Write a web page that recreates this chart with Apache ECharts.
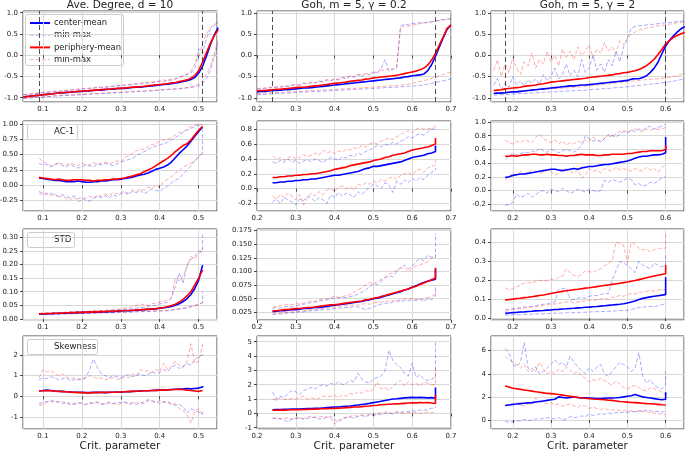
<!DOCTYPE html>
<html><head><meta charset="utf-8">
<script src="https://cdn.jsdelivr.net/npm/echarts@6/dist/echarts.min.js"></script>
<style>html,body{margin:0;padding:0;background:#fff}#c{width:685px;height:451px}</style>
</head><body><div id="c"></div>
<script>
// ---------- x positions ----------
const R1X1 = [0.05,0.06,0.07,0.08,0.09,0.10,0.11,0.12,0.13,0.14,0.15,
 0.16,0.17,0.18,0.19,0.20,0.21,0.22,0.23,0.24,0.25,
 0.26,0.27,0.28,0.29,0.30,0.31,0.32,0.33,0.34,0.35,
 0.36,0.37,0.38,0.39,0.40,0.41,0.42,0.43,0.44,0.45,
 0.46,0.47,0.48,0.49,0.50,0.51,0.52,0.53,0.54,0.55];
const R1X2 = [0.20,0.21,0.22,0.23,0.24,0.25,0.26,0.27,0.28,0.29,0.30,
 0.31,0.32,0.33,0.34,0.35,0.36,0.37,0.38,0.39,0.40,
 0.41,0.42,0.43,0.44,0.45,0.46,0.47,0.48,0.49,0.50,
 0.51,0.52,0.53,0.54,0.55,0.56,0.57,0.58,0.59,0.60,
 0.61,0.62,0.63,0.64,0.65,0.66,0.67,0.68,0.69,0.70];
const R1X3 = [0.15,0.16,0.17,0.18,0.19,0.20,0.21,0.22,0.23,0.24,0.25,
 0.26,0.27,0.28,0.29,0.30,0.31,0.32,0.33,0.34,0.35,
 0.36,0.37,0.38,0.39,0.40,0.41,0.42,0.43,0.44,0.45,
 0.46,0.47,0.48,0.49,0.50,0.51,0.52,0.53,0.54,0.55,
 0.56,0.57,0.58,0.59,0.60,0.61,0.62,0.63,0.64,0.65];
const X1 = [0.09,0.10,0.11,0.12,0.13,0.14,0.15,0.16,0.17,0.18,
 0.19,0.20,0.21,0.22,0.23,0.24,0.25,0.26,0.27,0.28,
 0.29,0.30,0.31,0.32,0.33,0.34,0.35,0.36,0.37,0.38,
 0.39,0.40,0.41,0.42,0.43,0.44,0.45,0.46,0.47,0.48,
 0.49,0.50,0.51,0.51];
const X2 = [0.24,0.25,0.26,0.27,0.28,0.29,0.30,0.31,0.32,0.33,
 0.34,0.35,0.36,0.37,0.38,0.39,0.40,0.41,0.42,0.43,
 0.44,0.45,0.46,0.47,0.48,0.49,0.50,0.51,0.52,0.53,
 0.54,0.55,0.56,0.57,0.58,0.59,0.60,0.61,0.62,0.63,
 0.64,0.65,0.66,0.66];
const X3 = [0.18,0.19,0.20,0.21,0.22,0.23,0.24,0.25,0.26,0.27,
 0.28,0.29,0.30,0.31,0.32,0.33,0.34,0.35,0.36,0.37,
 0.38,0.39,0.40,0.41,0.42,0.43,0.44,0.45,0.46,0.47,
 0.48,0.49,0.50,0.51,0.52,0.53,0.54,0.55,0.56,0.57,
 0.58,0.59,0.60,0.60];

// ---------- Row 1: order parameter ----------
const deg_cMean = [-0.98,-0.97,-0.96,-0.95,-0.94,-0.93,-0.92,-0.91,-0.90,-0.89,-0.89,
 -0.88,-0.87,-0.86,-0.86,-0.85,-0.84,-0.84,-0.83,-0.82,-0.82,
 -0.81,-0.80,-0.80,-0.79,-0.78,-0.78,-0.77,-0.76,-0.75,-0.75,
 -0.74,-0.73,-0.72,-0.71,-0.70,-0.69,-0.68,-0.67,-0.65,-0.64,
 -0.62,-0.60,-0.57,-0.52,-0.42,-0.26,-0.02,0.25,0.48,0.65];
const deg_pMean = [-0.98,-0.97,-0.96,-0.95,-0.94,-0.93,-0.92,-0.91,-0.90,-0.89,-0.88,
 -0.87,-0.87,-0.86,-0.85,-0.84,-0.84,-0.83,-0.82,-0.82,-0.81,
 -0.80,-0.80,-0.79,-0.78,-0.78,-0.77,-0.76,-0.75,-0.75,-0.74,
 -0.73,-0.72,-0.71,-0.70,-0.69,-0.68,-0.67,-0.65,-0.64,-0.62,
 -0.60,-0.58,-0.54,-0.48,-0.36,-0.16,0.06,0.28,0.46,0.60];
const deg_cMax = [-0.93,-0.91,-0.92,-0.89,-0.90,-0.87,-0.88,-0.85,-0.86,-0.84,-0.85,
 -0.82,-0.83,-0.80,-0.82,-0.78,-0.80,-0.77,-0.78,-0.75,-0.77,
 -0.74,-0.75,-0.72,-0.74,-0.70,-0.72,-0.69,-0.70,-0.67,-0.68,
 -0.65,-0.66,-0.63,-0.65,-0.60,-0.62,-0.58,-0.59,-0.55,-0.52,
 -0.48,-0.46,-0.42,-0.30,0.15,0.05,0.40,0.60,0.70,0.76];
const deg_pMax = [-0.92,-0.93,-0.90,-0.91,-0.88,-0.89,-0.86,-0.87,-0.84,-0.86,-0.83,
 -0.84,-0.81,-0.82,-0.79,-0.80,-0.77,-0.79,-0.76,-0.77,-0.74,
 -0.76,-0.73,-0.74,-0.71,-0.72,-0.69,-0.70,-0.67,-0.68,-0.65,
 -0.66,-0.63,-0.64,-0.61,-0.62,-0.58,-0.60,-0.56,-0.57,-0.52,
 -0.50,-0.44,-0.38,-0.20,-0.05,0.30,0.50,0.65,0.72,0.78];
const deg_cMin = [-1.02,-1.00,-1.01,-0.99,-0.98,-0.99,-0.97,-0.97,-0.96,-0.96,-0.95,
 -0.95,-0.94,-0.94,-0.93,-0.93,-0.92,-0.92,-0.91,-0.91,-0.90,
 -0.90,-0.89,-0.89,-0.88,-0.88,-0.87,-0.87,-0.86,-0.86,-0.85,
 -0.85,-0.84,-0.84,-0.83,-0.82,-0.82,-0.81,-0.80,-0.80,-0.79,
 -0.78,-0.77,-0.76,-0.74,-0.72,-0.66,-0.55,-0.35,-0.05,0.30];
const deg_pMin = [-1.01,-1.01,-0.99,-1.00,-0.98,-0.98,-0.96,-0.97,-0.95,-0.95,-0.94,
 -0.94,-0.93,-0.93,-0.92,-0.92,-0.91,-0.91,-0.90,-0.90,-0.89,
 -0.89,-0.88,-0.88,-0.87,-0.87,-0.86,-0.86,-0.85,-0.85,-0.84,
 -0.84,-0.83,-0.83,-0.82,-0.81,-0.81,-0.80,-0.79,-0.79,-0.78,
 -0.77,-0.76,-0.75,-0.72,-0.68,-0.60,-0.45,-0.25,0.05,0.35];

const g02_cMean = [-0.86,-0.85,-0.85,-0.84,-0.83,-0.83,-0.82,-0.81,-0.81,-0.80,-0.79,
 -0.78,-0.77,-0.77,-0.76,-0.75,-0.74,-0.73,-0.72,-0.71,-0.70,
 -0.69,-0.68,-0.67,-0.66,-0.65,-0.64,-0.63,-0.62,-0.61,-0.60,
 -0.59,-0.58,-0.57,-0.56,-0.55,-0.54,-0.53,-0.51,-0.50,-0.48,
 -0.47,-0.46,-0.44,-0.36,-0.22,-0.02,0.20,0.42,0.62,0.72];
const g02_pMean = [-0.84,-0.83,-0.83,-0.82,-0.81,-0.80,-0.80,-0.79,-0.78,-0.77,-0.76,
 -0.75,-0.75,-0.74,-0.73,-0.72,-0.71,-0.70,-0.69,-0.67,-0.66,
 -0.65,-0.64,-0.63,-0.61,-0.60,-0.59,-0.58,-0.56,-0.55,-0.53,
 -0.52,-0.51,-0.50,-0.49,-0.48,-0.47,-0.45,-0.43,-0.41,-0.39,
 -0.37,-0.34,-0.30,-0.23,-0.11,0.05,0.25,0.44,0.64,0.72];
const g02_cMax = [-0.80,-0.77,-0.79,-0.75,-0.77,-0.74,-0.76,-0.72,-0.74,-0.70,-0.69,
 -0.71,-0.66,-0.68,-0.64,-0.66,-0.60,-0.63,-0.58,-0.60,-0.56,
 -0.58,-0.52,-0.55,-0.48,-0.52,-0.45,-0.50,-0.42,-0.46,-0.40,
 -0.42,-0.30,-0.10,-0.38,-0.32,-0.28,0.70,0.74,0.72,0.76,
 0.75,0.78,0.77,0.80,0.79,0.82,0.83,0.85,0.86,0.87];
const g02_pMax = [-0.78,-0.80,-0.76,-0.78,-0.74,-0.76,-0.72,-0.74,-0.70,-0.72,-0.68,
 -0.69,-0.65,-0.67,-0.62,-0.64,-0.60,-0.62,-0.57,-0.59,-0.55,
 -0.56,-0.52,-0.54,-0.48,-0.50,-0.44,-0.47,-0.42,-0.44,-0.38,
 -0.40,-0.34,-0.36,-0.30,-0.34,-0.30,0.66,0.70,0.69,0.72,
 0.73,0.75,0.76,0.78,0.79,0.81,0.82,0.84,0.85,0.86];
const g02_cMin = [-0.93,-0.92,-0.92,-0.91,-0.91,-0.90,-0.90,-0.89,-0.89,-0.88,-0.88,
 -0.87,-0.87,-0.86,-0.86,-0.85,-0.85,-0.84,-0.84,-0.83,-0.83,
 -0.82,-0.82,-0.81,-0.81,-0.80,-0.80,-0.79,-0.79,-0.78,-0.78,
 -0.77,-0.77,-0.76,-0.76,-0.75,-0.75,-0.74,-0.73,-0.73,-0.72,
 -0.72,-0.71,-0.70,-0.68,-0.66,-0.64,-0.62,-0.60,-0.58,-0.55];
const g02_pMin = [-0.90,-0.90,-0.89,-0.89,-0.88,-0.88,-0.87,-0.87,-0.86,-0.86,-0.85,
 -0.85,-0.84,-0.84,-0.83,-0.83,-0.82,-0.82,-0.81,-0.81,-0.80,
 -0.80,-0.79,-0.79,-0.78,-0.78,-0.77,-0.77,-0.76,-0.75,-0.75,
 -0.74,-0.74,-0.73,-0.72,-0.72,-0.71,-0.70,-0.69,-0.68,-0.66,
 -0.64,-0.62,-0.60,-0.57,-0.54,-0.51,-0.48,-0.45,-0.42,-0.40];

const g2_cMean = [-0.90,-0.89,-0.89,-0.88,-0.87,-0.86,-0.86,-0.85,-0.84,-0.83,-0.82,
 -0.81,-0.80,-0.79,-0.78,-0.77,-0.76,-0.75,-0.74,-0.73,-0.72,
 -0.72,-0.71,-0.70,-0.70,-0.69,-0.68,-0.67,-0.66,-0.65,-0.64,
 -0.63,-0.62,-0.61,-0.60,-0.59,-0.56,-0.55,-0.55,-0.52,-0.48,
 -0.40,-0.30,-0.16,0.04,0.22,0.36,0.46,0.55,0.63,0.68];
const g2_pMean = [-0.83,-0.82,-0.81,-0.79,-0.78,-0.77,-0.76,-0.75,-0.73,-0.72,-0.71,
 -0.70,-0.68,-0.67,-0.65,-0.63,-0.62,-0.61,-0.60,-0.59,-0.58,
 -0.57,-0.56,-0.55,-0.54,-0.52,-0.51,-0.50,-0.49,-0.48,-0.47,
 -0.46,-0.44,-0.43,-0.41,-0.40,-0.38,-0.36,-0.33,-0.29,-0.24,
 -0.17,-0.09,0.02,0.14,0.27,0.35,0.42,0.47,0.51,0.54];
const g2_cMax = [-0.70,-0.55,-0.80,-0.65,-0.75,-0.50,-0.70,-0.60,-0.72,-0.58,-0.65,
 -0.55,-0.68,-0.45,-0.60,-0.50,-0.30,-0.55,-0.45,-0.20,-0.48,
 -0.35,-0.50,-0.10,-0.40,-0.30,0.00,-0.35,-0.20,-0.40,-0.10,
 -0.25,0.10,-0.15,0.20,0.40,0.65,0.68,0.70,0.71,0.72,
 0.73,0.74,0.75,0.76,0.77,0.78,0.79,0.80,0.81,0.82];
const g2_pMax = [-0.35,-0.10,-0.50,-0.20,-0.40,-0.05,-0.30,-0.45,-0.15,-0.25,0.05,
 -0.30,-0.10,-0.20,0.10,-0.15,0.00,-0.25,0.15,-0.05,0.10,
 -0.10,0.20,0.00,0.10,0.25,-0.05,0.15,0.05,0.30,0.10,
 0.20,0.05,0.35,0.25,0.40,0.50,0.55,0.60,0.62,0.65,
 0.66,0.68,0.70,0.71,0.72,0.74,0.75,0.77,0.78,0.80];
const g2_cMin = [-0.94,-0.93,-0.93,-0.92,-0.92,-0.91,-0.91,-0.90,-0.90,-0.89,-0.89,
 -0.88,-0.88,-0.87,-0.87,-0.86,-0.86,-0.85,-0.85,-0.84,-0.84,
 -0.83,-0.83,-0.82,-0.82,-0.81,-0.80,-0.80,-0.79,-0.78,-0.78,
 -0.77,-0.76,-0.76,-0.75,-0.74,-0.73,-0.72,-0.71,-0.70,-0.69,
 -0.68,-0.67,-0.66,-0.65,-0.64,-0.62,-0.61,-0.59,-0.57,-0.55];
const g2_pMin = [-0.88,-0.87,-0.87,-0.86,-0.85,-0.85,-0.84,-0.84,-0.83,-0.82,-0.82,
 -0.81,-0.81,-0.80,-0.80,-0.79,-0.78,-0.78,-0.77,-0.77,-0.76,
 -0.75,-0.75,-0.74,-0.73,-0.72,-0.71,-0.70,-0.69,-0.68,-0.67,
 -0.66,-0.65,-0.64,-0.63,-0.62,-0.61,-0.60,-0.59,-0.58,-0.57,
 -0.56,-0.56,-0.55,-0.54,-0.53,-0.52,-0.50,-0.48,-0.45,-0.42];

// ---------- Row 2: AC-1 ----------
const ac_deg_cMean = [0.12,0.11,0.10,0.09,0.08,0.08,0.07,0.06,0.06,0.06,
 0.07,0.06,0.05,0.05,0.06,0.06,0.07,0.07,0.08,0.09,
 0.09,0.10,0.11,0.12,0.13,0.15,0.17,0.18,0.20,0.23,
 0.26,0.28,0.30,0.33,0.38,0.45,0.52,0.58,0.64,0.72,
 0.80,0.88,0.95,0.96];
const ac_deg_pMean = [0.13,0.12,0.11,0.10,0.09,0.10,0.09,0.08,0.08,0.09,
 0.09,0.09,0.08,0.08,0.07,0.08,0.08,0.09,0.09,0.10,
 0.10,0.11,0.12,0.14,0.15,0.17,0.19,0.22,0.25,0.28,
 0.32,0.36,0.40,0.44,0.49,0.55,0.60,0.65,0.68,0.74,
 0.82,0.90,0.96,0.96];
const ac_deg_cMax = [0.36,0.33,0.34,0.30,0.33,0.36,0.32,0.30,0.34,0.31,
 0.28,0.30,0.33,0.32,0.30,0.35,0.33,0.36,0.34,0.32,
 0.35,0.38,0.40,0.42,0.44,0.48,0.52,0.55,0.58,0.62,
 0.64,0.66,0.68,0.70,0.74,0.78,0.82,0.86,0.90,0.93,
 0.96,0.98,0.98,0.98];
const ac_deg_pMax = [0.45,0.38,0.36,0.32,0.34,0.37,0.35,0.33,0.36,0.34,
 0.32,0.36,0.34,0.33,0.37,0.34,0.36,0.38,0.35,0.37,
 0.40,0.38,0.45,0.48,0.52,0.56,0.60,0.58,0.63,0.66,
 0.68,0.72,0.74,0.75,0.78,0.82,0.86,0.88,0.92,0.96,
 0.98,1.00,0.99,0.99];
const ac_deg_cMin = [-0.10,-0.13,-0.15,-0.13,-0.16,-0.18,-0.15,-0.19,-0.20,-0.17,
 -0.22,-0.20,-0.24,-0.26,-0.22,-0.18,-0.20,-0.17,-0.21,-0.15,
 -0.18,-0.14,-0.12,-0.15,-0.10,-0.12,-0.08,-0.14,-0.10,-0.06,
 -0.08,-0.10,-0.05,-0.02,0.04,0.08,0.12,0.18,0.25,0.32,
 0.40,0.46,0.52,0.90];
const ac_deg_pMin = [-0.13,-0.16,-0.12,-0.17,-0.14,-0.20,-0.17,-0.22,-0.24,-0.19,
 -0.27,-0.24,-0.20,-0.18,-0.21,-0.16,-0.18,-0.14,-0.17,-0.12,
 -0.14,-0.12,-0.10,-0.13,-0.08,-0.10,-0.06,-0.08,-0.03,-0.05,
 0.00,-0.04,0.06,0.10,0.14,0.20,0.24,0.30,0.33,0.36,
 0.40,0.48,0.52,0.55];

const ac_g02_cMean = [0.08,0.08,0.09,0.09,0.10,0.10,0.11,0.11,0.12,0.12,
 0.13,0.13,0.14,0.15,0.16,0.17,0.18,0.18,0.19,0.20,
 0.21,0.22,0.23,0.25,0.27,0.28,0.30,0.30,0.31,0.32,
 0.33,0.34,0.35,0.36,0.38,0.40,0.42,0.43,0.44,0.45,
 0.47,0.48,0.50,0.58];
const ac_g02_pMean = [0.15,0.15,0.16,0.16,0.17,0.17,0.18,0.18,0.19,0.19,
 0.20,0.20,0.21,0.22,0.23,0.24,0.26,0.27,0.28,0.29,
 0.31,0.32,0.33,0.34,0.35,0.36,0.38,0.39,0.40,0.42,
 0.43,0.45,0.46,0.47,0.48,0.50,0.52,0.53,0.54,0.55,
 0.56,0.58,0.60,0.68];
const ac_g02_cMax = [0.36,0.34,0.38,0.35,0.40,0.36,0.38,0.34,0.37,0.39,
 0.36,0.40,0.38,0.35,0.39,0.42,0.40,0.38,0.43,0.41,
 0.45,0.43,0.48,0.46,0.50,0.52,0.55,0.58,0.56,0.60,
 0.58,0.62,0.60,0.64,0.66,0.70,0.68,0.72,0.74,0.72,
 0.76,0.80,0.80,0.82];
const ac_g02_pMax = [0.44,0.40,0.42,0.38,0.41,0.44,0.40,0.42,0.46,0.43,
 0.45,0.48,0.45,0.52,0.48,0.50,0.47,0.51,0.49,0.53,
 0.52,0.55,0.54,0.58,0.56,0.60,0.62,0.60,0.64,0.66,
 0.68,0.66,0.70,0.72,0.76,0.78,0.75,0.80,0.82,0.80,
 0.81,0.80,0.84,0.86];
const ac_g02_cMin = [-0.18,-0.14,-0.20,-0.12,-0.15,-0.18,-0.22,-0.14,-0.16,-0.10,
 -0.13,-0.17,-0.12,-0.15,-0.20,-0.08,-0.12,-0.05,-0.10,-0.06,
 -0.08,-0.12,-0.04,-0.08,-0.02,0.02,0.06,0.04,0.00,0.08,
 0.05,-0.05,0.10,0.06,0.12,0.08,0.14,0.10,0.15,0.12,
 0.18,0.22,0.25,0.28];
const ac_g02_pMin = [-0.10,-0.14,-0.08,-0.12,-0.06,-0.10,-0.15,-0.08,-0.22,-0.12,
 -0.06,-0.10,-0.04,-0.08,-0.02,0.00,-0.04,0.02,0.04,0.00,
 0.03,-0.02,0.06,0.04,0.08,0.06,0.10,0.08,0.12,0.10,
 0.14,0.16,0.12,0.18,0.20,0.22,0.18,0.24,0.26,0.22,
 0.28,0.30,0.32,0.38];

const ac_g2_cMean = [0.19,0.20,0.22,0.23,0.24,0.24,0.25,0.26,0.27,0.28,
 0.29,0.30,0.31,0.31,0.30,0.29,0.30,0.31,0.32,0.31,
 0.33,0.34,0.35,0.35,0.36,0.37,0.38,0.38,0.39,0.40,
 0.41,0.42,0.43,0.45,0.47,0.49,0.50,0.50,0.51,0.52,
 0.52,0.53,0.55,0.78];
const ac_g2_pMean = [0.50,0.50,0.51,0.50,0.51,0.52,0.52,0.53,0.53,0.52,
 0.52,0.53,0.52,0.52,0.51,0.51,0.50,0.51,0.51,0.52,
 0.53,0.52,0.52,0.52,0.51,0.51,0.52,0.52,0.53,0.53,
 0.53,0.53,0.54,0.54,0.55,0.56,0.57,0.57,0.58,0.58,
 0.58,0.58,0.60,0.66];
const ac_g2_cMax = [0.45,0.50,0.55,0.52,0.54,0.56,0.55,0.58,0.56,0.62,
 0.58,0.56,0.60,0.58,0.55,0.58,0.60,0.58,0.56,0.60,
 0.65,0.80,0.76,0.72,0.74,0.70,0.76,0.82,0.80,0.78,
 0.82,0.86,0.84,0.88,0.86,0.90,0.88,0.92,0.94,0.90,
 0.92,0.94,0.97,0.97];
const ac_g2_pMax = [0.74,0.70,0.68,0.72,0.70,0.74,0.72,0.70,0.78,0.82,
 0.76,0.72,0.70,0.74,0.68,0.72,0.66,0.70,0.68,0.72,
 0.70,0.74,0.72,0.78,0.74,0.72,0.76,0.80,0.78,0.84,
 0.86,0.88,0.85,0.88,0.90,0.88,0.86,0.90,0.88,0.90,
 0.89,0.90,0.92,0.92];
const ac_g2_cMin = [-0.22,-0.20,-0.18,-0.05,-0.10,-0.08,-0.04,-0.10,-0.06,-0.02,
 0.00,-0.04,0.02,0.00,-0.02,0.03,0.00,-0.04,-0.02,0.02,
 0.00,-0.02,0.02,0.00,-0.02,0.00,0.15,0.12,0.16,0.14,
 0.12,0.15,0.18,0.16,0.08,0.10,0.06,0.08,0.12,0.10,
 0.14,0.18,0.20,0.20];
const ac_g2_pMin = [0.15,0.20,0.25,0.22,0.28,0.24,0.26,0.30,0.28,0.25,
 0.27,0.30,0.28,0.22,0.26,0.30,0.32,0.28,0.25,0.30,
 0.18,0.22,0.32,0.28,0.30,0.26,0.32,0.30,0.28,0.34,
 0.30,0.32,0.30,0.28,0.32,0.30,0.28,0.34,0.30,0.32,
 0.26,0.34,0.38,0.38];

// ---------- Row 3: STD ----------
const sd_deg_cMean = [0.018,0.018,0.019,0.019,0.020,0.020,0.021,0.021,0.022,0.022,
 0.023,0.023,0.024,0.024,0.025,0.025,0.026,0.026,0.027,0.027,
 0.028,0.029,0.030,0.030,0.031,0.032,0.033,0.034,0.035,0.036,
 0.037,0.039,0.041,0.043,0.046,0.050,0.056,0.064,0.074,0.090,
 0.112,0.143,0.198,0.198];
const sd_deg_pMean = [0.019,0.019,0.020,0.020,0.021,0.021,0.022,0.022,0.023,0.023,
 0.024,0.024,0.025,0.025,0.026,0.026,0.027,0.027,0.028,0.028,
 0.029,0.030,0.031,0.031,0.032,0.033,0.034,0.035,0.036,0.037,
 0.038,0.040,0.042,0.045,0.049,0.054,0.062,0.072,0.085,0.100,
 0.125,0.150,0.180,0.180];
const sd_deg_cMax = [0.020,0.021,0.021,0.022,0.023,0.023,0.024,0.024,0.025,0.026,
 0.026,0.027,0.027,0.028,0.029,0.029,0.030,0.031,0.031,0.032,
 0.033,0.034,0.035,0.036,0.037,0.039,0.041,0.043,0.045,0.048,
 0.050,0.055,0.058,0.060,0.076,0.120,0.170,0.130,0.200,0.220,
 0.230,0.250,0.250,0.310];
const sd_deg_pMax = [0.021,0.021,0.022,0.022,0.023,0.024,0.024,0.025,0.026,0.026,
 0.027,0.028,0.028,0.029,0.030,0.030,0.031,0.032,0.033,0.034,
 0.035,0.037,0.039,0.042,0.045,0.050,0.055,0.052,0.050,0.056,
 0.058,0.062,0.065,0.068,0.080,0.150,0.140,0.160,0.190,0.230,
 0.220,0.240,0.250,0.260];
const sd_deg_cMin = [0.016,0.016,0.017,0.017,0.017,0.018,0.018,0.018,0.019,0.019,
 0.020,0.020,0.020,0.021,0.021,0.021,0.022,0.022,0.023,0.023,
 0.023,0.024,0.024,0.025,0.025,0.026,0.026,0.027,0.027,0.028,
 0.028,0.029,0.029,0.030,0.032,0.034,0.036,0.038,0.040,0.044,
 0.048,0.052,0.060,0.100];
const sd_deg_pMin = [0.017,0.017,0.017,0.018,0.018,0.018,0.019,0.019,0.019,0.020,
 0.020,0.021,0.021,0.021,0.022,0.022,0.023,0.023,0.023,0.024,
 0.024,0.025,0.025,0.026,0.026,0.027,0.027,0.028,0.028,0.029,
 0.030,0.030,0.031,0.032,0.034,0.036,0.038,0.041,0.044,0.047,
 0.050,0.054,0.060,0.070];

const sd_g02_cMean = [0.026,0.027,0.028,0.028,0.029,0.030,0.030,0.031,0.032,0.032,
 0.033,0.034,0.034,0.035,0.036,0.037,0.038,0.039,0.040,0.041,
 0.042,0.043,0.044,0.045,0.047,0.048,0.050,0.051,0.053,0.055,
 0.057,0.059,0.061,0.063,0.066,0.068,0.071,0.074,0.077,0.080,
 0.082,0.084,0.086,0.105];
const sd_g02_pMean = [0.028,0.028,0.029,0.030,0.030,0.031,0.032,0.032,0.033,0.034,
 0.034,0.035,0.036,0.037,0.038,0.039,0.039,0.040,0.041,0.042,
 0.043,0.044,0.045,0.046,0.048,0.049,0.051,0.052,0.054,0.056,
 0.058,0.060,0.062,0.064,0.066,0.068,0.071,0.073,0.076,0.079,
 0.082,0.085,0.088,0.107];
const sd_g02_cMax = [0.032,0.034,0.033,0.035,0.036,0.035,0.037,0.038,0.040,0.041,
 0.043,0.044,0.046,0.047,0.048,0.050,0.051,0.052,0.053,0.052,
 0.054,0.056,0.058,0.062,0.066,0.072,0.078,0.076,0.082,0.088,
 0.092,0.090,0.100,0.108,0.112,0.105,0.110,0.118,0.124,0.120,
 0.130,0.126,0.125,0.170];
const sd_g02_pMax = [0.034,0.036,0.038,0.038,0.040,0.039,0.041,0.040,0.042,0.044,
 0.046,0.045,0.048,0.050,0.049,0.052,0.055,0.052,0.054,0.056,
 0.058,0.062,0.066,0.070,0.075,0.080,0.077,0.082,0.085,0.090,
 0.095,0.098,0.102,0.105,0.108,0.100,0.106,0.110,0.112,0.115,
 0.118,0.125,0.128,0.130];
const sd_g02_cMin = [0.021,0.022,0.022,0.023,0.024,0.024,0.025,0.026,0.026,0.027,
 0.028,0.028,0.029,0.030,0.030,0.031,0.032,0.033,0.033,0.034,
 0.034,0.036,0.035,0.033,0.030,0.032,0.035,0.038,0.040,0.042,
 0.041,0.044,0.046,0.045,0.047,0.046,0.048,0.047,0.049,0.045,
 0.050,0.048,0.055,0.075];
const sd_g02_pMin = [0.022,0.023,0.024,0.024,0.025,0.026,0.026,0.027,0.028,0.029,
 0.030,0.030,0.031,0.032,0.033,0.034,0.035,0.036,0.037,0.037,
 0.038,0.039,0.038,0.040,0.041,0.040,0.042,0.043,0.044,0.046,
 0.045,0.046,0.047,0.048,0.050,0.049,0.050,0.048,0.050,0.049,
 0.052,0.054,0.058,0.065];

const sd_g2_cMean = [0.025,0.027,0.029,0.030,0.032,0.033,0.035,0.036,0.038,0.039,
 0.040,0.042,0.043,0.045,0.046,0.048,0.049,0.051,0.052,0.054,
 0.055,0.057,0.058,0.060,0.061,0.063,0.065,0.067,0.069,0.071,
 0.073,0.076,0.080,0.085,0.090,0.098,0.104,0.108,0.112,0.115,
 0.118,0.121,0.125,0.215];
const sd_g2_pMean = [0.095,0.098,0.100,0.103,0.105,0.108,0.110,0.113,0.116,0.119,
 0.122,0.126,0.130,0.134,0.138,0.141,0.144,0.147,0.150,0.152,
 0.155,0.158,0.160,0.163,0.166,0.169,0.172,0.175,0.178,0.181,
 0.184,0.187,0.190,0.194,0.198,0.203,0.208,0.213,0.218,0.222,
 0.226,0.230,0.235,0.280];
const sd_g2_cMax = [0.045,0.047,0.050,0.052,0.055,0.058,0.060,0.063,0.066,0.070,
 0.073,0.076,0.080,0.085,0.150,0.155,0.160,0.100,0.098,0.105,
 0.110,0.105,0.115,0.120,0.118,0.125,0.130,0.128,0.200,0.250,
 0.300,0.290,0.280,0.260,0.240,0.300,0.280,0.270,0.260,0.290,
 0.280,0.270,0.280,0.330];
const sd_g2_pMax = [0.160,0.150,0.155,0.165,0.175,0.185,0.190,0.185,0.195,0.200,
 0.195,0.200,0.205,0.200,0.215,0.220,0.260,0.240,0.225,0.220,
 0.230,0.250,0.245,0.240,0.255,0.260,0.275,0.290,0.300,0.400,
 0.395,0.385,0.290,0.400,0.390,0.370,0.360,0.365,0.350,0.360,
 0.370,0.365,0.370,0.450];
const sd_g2_cMin = [0.015,0.016,0.017,0.018,0.018,0.019,0.020,0.021,0.022,0.022,
 0.023,0.024,0.025,0.026,0.026,0.027,0.028,0.028,0.029,0.030,
 0.030,0.031,0.032,0.033,0.034,0.034,0.035,0.036,0.037,0.038,
 0.040,0.039,0.041,0.046,0.050,0.055,0.058,0.060,0.062,0.060,
 0.065,0.070,0.075,0.080];
const sd_g2_pMin = [0.035,0.040,0.045,0.048,0.050,0.053,0.056,0.058,0.060,0.063,
 0.066,0.070,0.072,0.075,0.078,0.082,0.085,0.090,0.080,0.085,
 0.088,0.090,0.095,0.092,0.098,0.100,0.105,0.100,0.110,0.112,
 0.120,0.115,0.125,0.130,0.128,0.135,0.138,0.140,0.145,0.142,
 0.148,0.150,0.150,0.160];

// ---------- Row 4: Skewness ----------
const sk_deg_cMean = [0.27,0.28,0.30,0.28,0.26,0.25,0.24,0.22,0.21,0.20,
 0.20,0.19,0.18,0.18,0.19,0.20,0.19,0.18,0.19,0.20,
 0.21,0.20,0.22,0.23,0.24,0.25,0.26,0.27,0.27,0.28,
 0.29,0.30,0.31,0.32,0.33,0.34,0.35,0.36,0.38,0.36,
 0.38,0.40,0.45,0.50];
const sk_deg_pMean = [0.26,0.27,0.28,0.27,0.25,0.24,0.23,0.22,0.20,0.19,
 0.18,0.18,0.17,0.17,0.18,0.18,0.19,0.19,0.20,0.20,
 0.20,0.21,0.22,0.23,0.24,0.25,0.26,0.27,0.27,0.28,
 0.29,0.30,0.30,0.31,0.32,0.33,0.34,0.33,0.30,0.28,
 0.26,0.24,0.28,0.30];
const sk_deg_cMax = [0.80,0.90,0.85,0.95,0.90,0.80,0.85,0.90,0.75,0.80,
 0.85,0.80,0.90,1.30,1.80,1.40,1.10,1.00,0.90,1.00,
 0.95,0.90,1.00,1.05,0.95,1.00,1.10,1.00,1.05,1.20,
 1.10,1.15,1.30,1.20,1.40,1.50,1.35,1.45,1.60,1.50,
 1.80,1.90,2.00,2.05];
const sk_deg_pMax = [0.90,1.30,1.20,1.25,1.10,1.00,1.10,0.95,0.85,0.90,
 0.80,0.85,0.90,1.00,0.95,0.85,0.90,0.80,0.85,0.90,
 0.85,0.80,0.95,0.90,1.10,1.00,1.30,1.20,1.25,1.15,
 1.30,1.20,1.60,1.30,1.45,1.70,1.50,1.40,1.70,2.55,
 1.60,1.70,2.50,2.30];
const sk_deg_cMin = [-0.35,-0.30,-0.25,-0.20,-0.30,-0.25,-0.35,-0.30,-0.40,-0.35,
 -0.30,-0.35,-0.40,-0.30,-0.35,-0.30,-0.40,-0.35,-0.30,-0.35,
 -0.30,-0.30,-0.25,-0.35,-0.30,-0.40,-0.30,-0.35,-0.20,-0.25,
 -0.30,-0.20,-0.30,-0.25,-0.35,-0.45,-0.40,-0.50,-0.80,-0.60,
 -0.70,-0.75,-0.85,-0.80];
const sk_deg_pMin = [-0.45,-0.40,-0.30,-0.25,-0.20,-0.30,-0.25,-0.35,-0.30,-0.40,
 -0.35,-0.30,-0.40,-0.35,-0.30,-0.25,-0.35,-0.40,-0.30,-0.35,
 -0.40,-0.35,-0.30,-0.40,-0.35,-0.30,-0.35,-0.25,-0.15,-0.20,
 -0.25,-0.35,-0.25,-0.30,-0.40,-0.35,-0.60,-0.70,-0.90,-1.30,
 -0.70,-0.60,-0.90,-0.75];

const sk_g02_cMean = [0.25,0.26,0.27,0.28,0.29,0.30,0.30,0.31,0.32,0.33,
 0.34,0.35,0.36,0.38,0.40,0.42,0.44,0.45,0.48,0.50,
 0.52,0.55,0.58,0.62,0.66,0.70,0.75,0.80,0.85,0.90,
 0.95,1.00,1.02,1.05,1.08,1.10,1.12,1.10,1.12,1.10,
 1.08,1.10,1.05,1.80];
const sk_g02_pMean = [0.22,0.22,0.23,0.23,0.24,0.25,0.25,0.26,0.27,0.28,
 0.29,0.30,0.31,0.32,0.33,0.34,0.35,0.36,0.38,0.40,
 0.42,0.44,0.45,0.47,0.50,0.52,0.55,0.57,0.60,0.62,
 0.64,0.65,0.66,0.68,0.70,0.72,0.74,0.73,0.75,0.74,
 0.75,0.72,0.70,1.30];
const sk_g02_cMax = [1.50,1.00,1.20,1.10,1.40,1.60,1.50,1.30,1.60,1.70,
 1.80,1.70,1.90,2.00,1.90,2.10,2.00,2.20,2.00,2.10,
 2.30,2.20,2.80,2.40,2.20,2.10,2.40,2.50,2.60,3.00,
 4.40,3.70,3.40,3.20,2.80,2.60,3.50,2.50,2.70,2.40,
 2.30,2.40,2.50,5.00];
const sk_g02_pMax = [1.00,0.90,1.10,1.00,0.95,1.05,1.00,1.10,1.20,1.00,
 1.10,1.00,1.05,1.20,1.15,1.20,1.25,1.10,1.30,1.20,
 1.40,1.30,1.50,1.40,1.60,1.50,1.70,2.20,1.70,1.80,
 1.60,1.90,2.10,2.30,1.90,2.20,2.00,2.10,1.90,2.20,
 2.10,2.00,2.00,3.20];
const sk_g02_cMin = [-0.30,-0.40,-0.35,-0.45,-0.60,-0.40,-0.35,-0.30,-0.40,-0.35,
 -0.30,-0.25,-0.40,-0.35,-0.30,-0.20,-0.45,-0.60,-0.40,-0.30,
 -0.25,-0.35,-0.20,-0.15,-0.25,-0.10,-0.15,-0.05,-0.10,0.00,
 0.05,-0.05,0.10,0.05,0.15,0.10,0.20,0.15,0.25,0.20,
 0.30,0.35,0.40,0.50];
const sk_g02_pMin = [-0.35,-0.30,-0.40,-0.35,-0.30,-0.40,-0.35,-0.30,-0.35,-0.25,
 -0.20,-0.30,-0.25,-0.20,-0.25,-0.30,-0.75,-0.45,-0.35,-0.25,
 -0.20,-0.15,-0.20,-0.10,-0.15,-0.05,-0.10,0.00,0.05,0.10,
 0.05,0.00,0.10,0.05,0.00,0.05,0.10,0.05,0.00,0.05,
 0.10,0.05,0.10,0.15];

const sk_g2_cMean = [1.25,1.30,1.35,1.38,1.42,1.45,1.48,1.50,1.55,1.60,
 1.65,1.70,1.75,1.80,2.00,1.95,1.90,1.95,2.00,1.95,
 1.90,1.92,1.90,1.88,1.85,1.85,1.88,1.90,1.90,1.92,
 1.95,2.00,2.05,2.10,2.20,2.10,2.00,1.95,1.90,1.85,
 1.80,1.75,1.80,2.40];
const sk_g2_pMean = [2.95,2.85,2.75,2.70,2.65,2.60,2.55,2.50,2.45,2.40,
 2.35,2.30,2.28,2.25,2.20,2.15,2.10,2.05,2.00,1.95,
 1.90,1.88,1.85,1.82,1.80,1.78,1.75,1.72,1.70,1.65,
 1.60,1.58,1.55,1.52,1.50,1.48,1.45,1.42,1.40,1.38,
 1.35,1.32,1.30,1.30];
const sk_g2_cMax = [6.20,5.80,4.80,4.60,5.00,6.70,4.50,4.20,4.60,4.00,
 4.20,4.50,4.80,5.20,4.80,5.00,4.60,5.50,5.00,4.60,
 4.30,4.00,4.50,4.20,4.60,4.80,4.00,3.80,4.20,4.60,
 5.00,4.80,4.60,4.20,4.50,5.80,3.80,3.20,3.50,3.00,
 2.80,2.70,3.00,4.20];
const sk_g2_pMax = [5.50,5.20,5.00,4.80,4.50,4.80,4.20,4.50,4.20,5.00,
 4.40,4.00,4.20,4.00,4.40,4.20,4.60,4.30,4.00,4.20,
 3.80,3.60,3.30,3.50,3.40,3.60,3.40,3.20,3.00,3.40,
 3.10,2.80,2.70,2.90,3.00,2.80,2.60,2.50,2.80,2.70,
 2.60,2.40,2.20,2.30];
const sk_g2_cMin = [-0.10,-0.20,-0.15,-0.05,-0.10,0.05,-0.05,0.00,0.10,0.05,
 0.15,0.20,0.15,0.10,0.20,0.00,0.10,0.30,0.20,0.25,
 0.35,0.30,0.50,0.40,0.45,0.55,0.50,0.60,0.55,0.65,
 0.60,0.70,0.65,0.75,0.70,0.80,0.75,0.85,0.80,0.70,
 0.75,0.70,0.70,0.65];
const sk_g2_pMin = [1.20,1.40,1.30,1.50,1.30,1.20,1.40,1.30,1.90,1.60,
 1.50,1.40,1.50,1.30,1.40,1.20,1.30,1.40,1.20,1.10,
 1.30,1.20,1.00,1.10,1.00,0.90,1.00,0.90,0.85,0.90,
 0.80,0.85,0.75,0.80,0.70,0.80,0.75,0.70,0.65,0.60,
 0.55,0.50,0.45,0.40];

// ---------- labels ----------
const colTitles = ['Ave. Degree, d = 10', 'Goh, m = 5, \u03b3 = 0.2', 'Goh, m = 5, \u03b3 = 2'];
const rowLabels = [null, 'AC-1', 'STD', 'Skewness'];
const legendNames = ['center-mean', 'min-max', 'periphery-mean', 'min-max'];
const critLines = [[0.09, 0.51], [0.24, 0.66], [0.18, 0.60]];

// ---------- layout ----------
const L = [23, 257, 491], W = [194, 194, 193];
const T = [11, 121, 229, 336], H = [91, 90, 91, 93];
const XR = [[0.049, 0.547], [0.2, 0.7], [0.143, 0.648]];
const YR = [
  [[-1.1, 1.04, 0.5, 1], [-1.1, 1.05, 0.5, 1], [-1.1, 1.05, 0.5, 1]],
  [[-0.42, 1.05, 0.25, 2], [-0.30, 0.91, 0.2, 1], [-0.30, 1.015, 0.2, 1]],
  [[-0.004, 0.331, 0.05, 2], [0.011, 0.178, 0.025, 3], [-0.01, 0.47, 0.1, 1]],
  [[-1.58, 2.92, 1, 0], [-1.09, 5.4, 1, 0], [-0.78, 7.27, 2, 0]]
];

const panels = [
  [[R1X1, deg_cMean, deg_cMax, deg_cMin, deg_pMean, deg_pMax, deg_pMin],
   [R1X2, g02_cMean, g02_cMax, g02_cMin, g02_pMean, g02_pMax, g02_pMin],
   [R1X3, g2_cMean, g2_cMax, g2_cMin, g2_pMean, g2_pMax, g2_pMin]],
  [[X1, ac_deg_cMean, ac_deg_cMax, ac_deg_cMin, ac_deg_pMean, ac_deg_pMax, ac_deg_pMin],
   [X2, ac_g02_cMean, ac_g02_cMax, ac_g02_cMin, ac_g02_pMean, ac_g02_pMax, ac_g02_pMin],
   [X3, ac_g2_cMean, ac_g2_cMax, ac_g2_cMin, ac_g2_pMean, ac_g2_pMax, ac_g2_pMin]],
  [[X1, sd_deg_cMean, sd_deg_cMax, sd_deg_cMin, sd_deg_pMean, sd_deg_pMax, sd_deg_pMin],
   [X2, sd_g02_cMean, sd_g02_cMax, sd_g02_cMin, sd_g02_pMean, sd_g02_pMax, sd_g02_pMin],
   [X3, sd_g2_cMean, sd_g2_cMax, sd_g2_cMin, sd_g2_pMean, sd_g2_pMax, sd_g2_pMin]],
  [[X1, sk_deg_cMean, sk_deg_cMax, sk_deg_cMin, sk_deg_pMean, sk_deg_pMax, sk_deg_pMin],
   [X2, sk_g02_cMean, sk_g02_cMax, sk_g02_cMin, sk_g02_pMean, sk_g02_pMax, sk_g02_pMin],
   [X3, sk_g2_cMean, sk_g2_cMax, sk_g2_cMin, sk_g2_pMean, sk_g2_pMax, sk_g2_pMin]]
];

const FONT = 'DejaVu Sans';
const BLUE = '#0000ff', RED = '#ff0000';
const LBLUE = 'rgba(0,0,255,0.33)', LRED = 'rgba(255,0,0,0.33)';
const onTick = (v, iv) => Math.abs(v / iv - Math.round(v / iv)) < 1e-6;
const fmt = (v, d) => d === 0 ? String(Math.round(v)) : (Math.abs(v) < 1e-12 ? 0 : v).toFixed(d);

const grids = [], xAxes = [], yAxes = [], series = [], graphic = [];
let gi = 0;
for (let r = 0; r < 4; r++) {
  for (let c = 0; c < 3; c++) {
    grids.push({left: L[c], top: T[r], width: W[c], height: H[r], show: true,
      borderColor: '#444', borderWidth: 1, backgroundColor: 'transparent', containLabel: false, outerBoundsMode: 'none'});
    const [xmn, xmx] = XR[c];
    xAxes.push({type: 'value', gridIndex: gi, min: xmn, max: xmx, minInterval: 0.1, maxInterval: 0.1,
      axisLine: {show: false}, axisTick: {show: true, length: 3, lineStyle: {color: '#444'}},
      axisLabel: {fontSize: 7, color: '#222', fontFamily: FONT, margin: 4, formatter: v => fmt(v, 1),
        showMinLabel: onTick(xmn, 0.1), showMaxLabel: onTick(xmx, 0.1)},
      splitLine: {show: true, lineStyle: {color: '#d9d9d9', width: 1}},
      name: r === 3 ? 'Crit. parameter' : '', nameLocation: 'middle', nameGap: 12,
      nameTextStyle: {fontSize: 10.5, color: '#222', fontFamily: FONT}});
    const [ymn, ymx, yiv, yd] = YR[r][c];
    yAxes.push({type: 'value', gridIndex: gi, min: ymn, max: ymx, minInterval: yiv, maxInterval: yiv,
      axisLine: {show: false}, axisTick: {show: true, length: 3, lineStyle: {color: '#444'}},
      axisLabel: {fontSize: 7, color: '#222', fontFamily: FONT, margin: 5, formatter: v => fmt(v, yd),
        showMinLabel: onTick(ymn, yiv), showMaxLabel: onTick(ymx, yiv)},
      splitLine: {show: true, lineStyle: {color: '#d9d9d9', width: 1}}});
    const p = panels[r][c];
    const xs = p[0];
    const mk = (ys, color, dashed, z) => {
      const n = Math.min(xs.length, ys.length);
      const data = [];
      for (let k = 0; k < n; k++) data.push([xs[k], ys[k]]);
      return {type: 'line', xAxisIndex: gi, yAxisIndex: gi, data, showSymbol: false, symbol: 'none',
        silent: true, animation: false, clip: true, z,
        lineStyle: {color, width: dashed ? 1 : 1.6, type: dashed ? [4, 2] : 'solid'},
        emphasis: {disabled: true}};
    };
    const s0 = mk(p[2], LBLUE, true, 2);
    if (r === 0) {
      s0.markLine = {silent: true, symbol: ['none', 'none'], animation: false, label: {show: false},
        lineStyle: {color: '#333', type: [5, 3], width: 1, opacity: 0.85},
        data: critLines[c].map(v => ({xAxis: v}))};
    }
    series.push(s0);
    series.push(mk(p[3], LBLUE, true, 2));
    series.push(mk(p[5], LRED, true, 2));
    series.push(mk(p[6], LRED, true, 2));
    series.push(mk(p[1], BLUE, false, 3));
    series.push(mk(p[4], RED, false, 4));
    gi++;
  }
}

// column titles
for (let c = 0; c < 3; c++) {
  graphic.push({type: 'text', x: L[c] + W[c] / 2, y: 5, silent: true,
    style: {text: colTitles[c], font: '10.5px ' + FONT, fill: '#222', align: 'center', verticalAlign: 'middle'}});
}
// legend (top-left panel)
graphic.push({type: 'rect', silent: true, shape: {x: 25.5, y: 14.5, width: 98, height: 51, r: 2},
  style: {fill: 'rgba(255,255,255,0.8)', stroke: '#cccccc', lineWidth: 1}});
const legStyles = [[BLUE, 2, null], [LBLUE, 1, [4, 2]], [RED, 2, null], [LRED, 1, [4, 2]]];
for (let i = 0; i < 4; i++) {
  const y = 23 + i * 12.2;
  graphic.push({type: 'line', silent: true, shape: {x1: 30, y1: y, x2: 50, y2: y},
    style: {stroke: legStyles[i][0], lineWidth: legStyles[i][1], lineDash: legStyles[i][2]}});
  graphic.push({type: 'text', silent: true, x: 54, y: y,
    style: {text: legendNames[i], font: '8.4px ' + FONT, fill: '#222', align: 'left', verticalAlign: 'middle'}});
}
// row labels
const rowBoxW = [0, 50, 47, 70];
for (let r = 1; r < 4; r++) {
  graphic.push({type: 'rect', silent: true, shape: {x: 27.5, y: T[r] + 3.5, width: rowBoxW[r], height: 15, r: 2},
    style: {fill: 'rgba(255,255,255,0.8)', stroke: '#cccccc', lineWidth: 1}});
  graphic.push({type: 'text', silent: true, x: 54, y: T[r] + 11,
    style: {text: rowLabels[r], font: '8.6px ' + FONT, fill: '#222', align: 'left', verticalAlign: 'middle'}});
}

const chart = echarts.init(document.getElementById('c'), null, {renderer: 'canvas'});
chart.setOption({
  animation: false,
  backgroundColor: '#ffffff',
  grid: grids, xAxis: xAxes, yAxis: yAxes, series, graphic
});
</script>
</body></html>
